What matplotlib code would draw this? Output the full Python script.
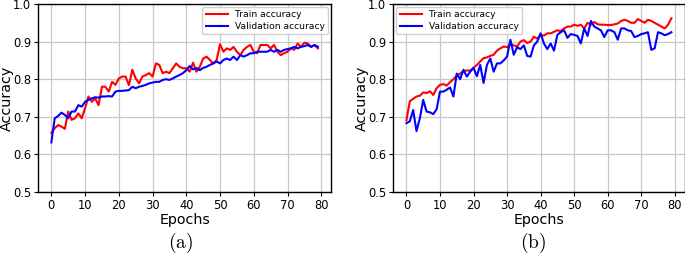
import matplotlib
matplotlib.use("Agg")
import matplotlib.pyplot as plt
import numpy as np

epochs = list(range(80))

train_a = [0.657, 0.670, 0.678, 0.674, 0.668, 0.714, 0.692, 0.696, 0.709, 0.696,
           0.723, 0.754, 0.740, 0.749, 0.731, 0.780, 0.780, 0.767, 0.793, 0.785,
           0.802, 0.807, 0.807, 0.784, 0.825, 0.802, 0.789, 0.807, 0.811, 0.816,
           0.807, 0.842, 0.838, 0.816, 0.820, 0.816, 0.829, 0.842, 0.833, 0.829,
           0.829, 0.820, 0.844, 0.820, 0.833, 0.855, 0.860, 0.851, 0.842, 0.851,
           0.893, 0.873, 0.882, 0.878, 0.886, 0.873, 0.864, 0.878, 0.886, 0.891,
           0.873, 0.869, 0.891, 0.891, 0.891, 0.882, 0.891, 0.873, 0.864, 0.869,
           0.873, 0.882, 0.878, 0.895, 0.886, 0.897, 0.895, 0.886, 0.891, 0.882]

val_a = [0.632, 0.696, 0.702, 0.711, 0.705, 0.696, 0.714, 0.714, 0.731, 0.727,
         0.740, 0.745, 0.749, 0.752, 0.751, 0.754, 0.754, 0.755, 0.754, 0.767,
         0.769, 0.769, 0.770, 0.771, 0.780, 0.776, 0.780, 0.782, 0.785, 0.789,
         0.791, 0.793, 0.793, 0.798, 0.800, 0.798, 0.802, 0.807, 0.811, 0.816,
         0.824, 0.835, 0.826, 0.830, 0.824, 0.830, 0.833, 0.838, 0.842, 0.847,
         0.842, 0.851, 0.855, 0.851, 0.860, 0.851, 0.864, 0.860, 0.864, 0.869,
         0.869, 0.873, 0.873, 0.873, 0.873, 0.878, 0.873, 0.878, 0.873, 0.878,
         0.880, 0.882, 0.886, 0.882, 0.886, 0.888, 0.891, 0.886, 0.891, 0.886]

train_b = [0.691, 0.741, 0.748, 0.754, 0.756, 0.765, 0.763, 0.768, 0.758, 0.776,
           0.785, 0.787, 0.783, 0.792, 0.800, 0.810, 0.815, 0.822, 0.823, 0.823,
           0.830, 0.838, 0.847, 0.856, 0.858, 0.862, 0.865, 0.876, 0.882, 0.887,
           0.885, 0.893, 0.890, 0.887, 0.900, 0.904, 0.896, 0.900, 0.913, 0.908,
           0.918, 0.916, 0.922, 0.922, 0.926, 0.930, 0.928, 0.935, 0.940, 0.940,
           0.945, 0.942, 0.945, 0.935, 0.950, 0.945, 0.952, 0.946, 0.945, 0.945,
           0.944, 0.944, 0.946, 0.948, 0.955, 0.958, 0.955, 0.950, 0.950, 0.960,
           0.955, 0.950, 0.958, 0.955, 0.950, 0.945, 0.940, 0.935, 0.945, 0.962]

val_b = [0.683, 0.688, 0.718, 0.662, 0.696, 0.745, 0.714, 0.712, 0.707, 0.720,
         0.767, 0.767, 0.772, 0.778, 0.754, 0.815, 0.800, 0.825, 0.807, 0.820,
         0.830, 0.808, 0.838, 0.790, 0.838, 0.855, 0.820, 0.842, 0.842, 0.850,
         0.860, 0.905, 0.865, 0.885, 0.880, 0.890, 0.862, 0.860, 0.890, 0.900,
         0.922, 0.895, 0.880, 0.895, 0.876, 0.918, 0.925, 0.930, 0.910, 0.920,
         0.918, 0.915, 0.895, 0.935, 0.915, 0.955, 0.940, 0.935, 0.930, 0.912,
         0.930, 0.930, 0.925, 0.905, 0.935, 0.935, 0.930, 0.928, 0.912, 0.915,
         0.920, 0.922, 0.925, 0.878, 0.882, 0.925, 0.922, 0.917, 0.920, 0.925]

yticks = [0.5, 0.6, 0.7, 0.8, 0.9, 1.0]
xticks = [0, 10, 20, 30, 40, 50, 60, 70, 80]
panel_labels = ["(a)", "(b)"]

fig = plt.figure(figsize=(6.85, 2.58), dpi=100)
ax1 = fig.add_axes([0.0555, 0.2558, 0.428, 0.7287])
ax2 = fig.add_axes([0.574, 0.2558, 0.4255, 0.7287])

for ax, tr, va, loc, lab in [(ax1, train_a, val_a, "upper right", panel_labels[0]),
                             (ax2, train_b, val_b, "upper left", panel_labels[1])]:
    ax.plot(epochs, tr, color="red", lw=1.5, label="Train accuracy")
    ax.plot(epochs, va, color="blue", lw=1.5, label="Validation accuracy")
    ax.set_ylim(0.5, 1.0)
    ax.set_yticks(yticks)
    ax.set_xticks(xticks)
    ax.grid(True, color="#c8c8c8", lw=0.9)
    ax.set_axisbelow(True)
    ax.tick_params(labelsize=8.3, length=3, width=0.8, pad=2)
    ax.set_xlabel("Epochs", fontsize=10.3, labelpad=1)
    ax.set_ylabel("Accuracy", fontsize=10.3)
    ax.yaxis.set_label_coords(-0.083, 0.5)
    for s in ax.spines.values():
        s.set_linewidth(1.0)
    ax.legend(loc=loc, fontsize=6.6, handlelength=2.4, borderpad=0.35,
              labelspacing=0.3, borderaxespad=0.35, framealpha=0.9)

fig.text(0.263, 0.058, r"$\mathrm{%s}$" % panel_labels[0], ha="center", va="center",
         fontsize=14, math_fontfamily="cm")
fig.text(0.778, 0.058, r"$\mathrm{%s}$" % panel_labels[1], ha="center", va="center",
         fontsize=14, math_fontfamily="cm")

fig.savefig("out.png", dpi=100)
